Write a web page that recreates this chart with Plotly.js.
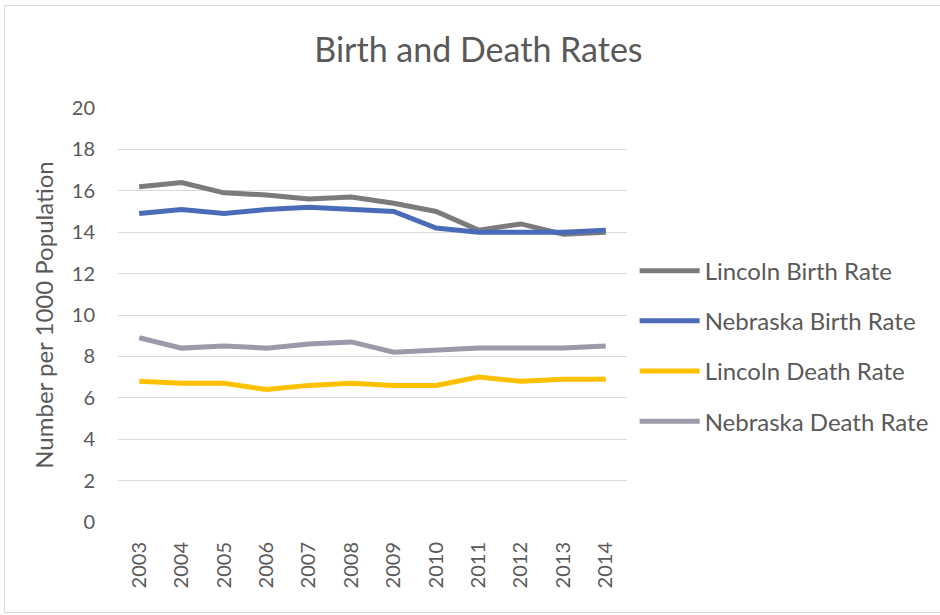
<!DOCTYPE html>
<html>
<head>
<meta charset="utf-8">
<script src="https://cdn.plot.ly/plotly-3.0.1.min.js"></script>
<style>
  html, body { margin: 0; padding: 0; background: #fff; }
  #wrap { position: relative; width: 940px; height: 615px; overflow: hidden; }
  #frame { position: absolute; left: 4px; top: 5px; width: 945px; height: 606px; border: 1px solid #d9d9d9; pointer-events: none; }
  #chart { position: absolute; left: 0; top: 0; width: 940px; height: 615px; }
</style>
</head>
<body>
<div id="wrap">
  <div id="chart"></div>
  <div id="frame"></div>
</div>
<script>
const years = ['2003','2004','2005','2006','2007','2008','2009','2010','2011','2012','2013','2014'];
const lincolnBirth   = [16.2, 16.4, 15.9, 15.8, 15.6, 15.7, 15.4, 15.0, 14.1, 14.4, 13.9, 14.0];
const nebraskaBirth  = [14.9, 15.1, 14.9, 15.1, 15.2, 15.1, 15.0, 14.2, 14.0, 14.0, 14.0, 14.1];
const lincolnDeath   = [6.8, 6.7, 6.7, 6.4, 6.6, 6.7, 6.6, 6.6, 7.0, 6.8, 6.9, 6.9];
const nebraskaDeath  = [8.9, 8.4, 8.5, 8.4, 8.6, 8.7, 8.2, 8.3, 8.4, 8.4, 8.4, 8.5];
const seriesNames = ['Lincoln Birth Rate', 'Nebraska Birth Rate', 'Lincoln Death Rate', 'Nebraska Death Rate'];
const yTicks = [0, 2, 4, 6, 8, 10, 12, 14, 16, 18, 20];

const colors = ['#7b7b7b', '#4a6cb8', '#ffc000', '#9a9aab'];
const allSeries = [lincolnBirth, nebraskaBirth, lincolnDeath, nebraskaDeath];
const FONT = 'Lato, "Open Sans", sans-serif';

const traces = allSeries.map((vals, i) => ({
  type: 'scatter',
  mode: 'lines',
  x: years,
  y: vals,
  name: seriesNames[i],
  legendgroup: 'g' + i,
  line: { color: colors[i], width: 5 },
  hoverinfo: 'x+y+name'
}));

const layout = {
  width: 940,
  height: 615,
  margin: { l: 118, r: 313, t: 108, b: 93, autoexpand: false },
  paper_bgcolor: '#ffffff',
  plot_bgcolor: '#ffffff',
  showlegend: true,
  title: {
    text: 'Birth and Death Rates',
    font: { family: FONT, size: 34, color: '#595959' },
    x: 0.509, xanchor: 'center',
    y: 0.918, yanchor: 'middle'
  },
  xaxis: {
    type: 'category',
    range: [-0.5, 11.5],
    tickangle: -90,
    tickfont: { family: FONT, size: 20, color: '#595959' },
    showgrid: false,
    zeroline: false,
    showline: false,
    ticks: 'outside', ticklen: 11, tickcolor: 'rgba(0,0,0,0)'
  },
  yaxis: {
    range: [0, 20],
    tickvals: yTicks,
    ticktext: yTicks.map(String),
    tickfont: { family: FONT, size: 20, color: '#595959' },
    gridcolor: '#d9d9d9',
    gridwidth: 1,
    zeroline: false,
    showline: false,
    ticks: 'outside', ticklen: 18, tickcolor: 'rgba(0,0,0,0)',
    title: {
      text: 'Number per 1000 Population',
      font: { family: FONT, size: 24, color: '#595959' },
      standoff: 11
    }
  },
  legend: {
    x: 1.015, xanchor: 'left',
    y: 0.425, yanchor: 'middle',
    font: { family: FONT, size: 24, color: '#595959' },
    tracegroupgap: 16,
    itemwidth: 60,
    bgcolor: 'rgba(0,0,0,0)'
  }
};

Plotly.newPlot('chart', traces, layout, { displayModeBar: false, staticPlot: true });
</script>
</body>
</html>
